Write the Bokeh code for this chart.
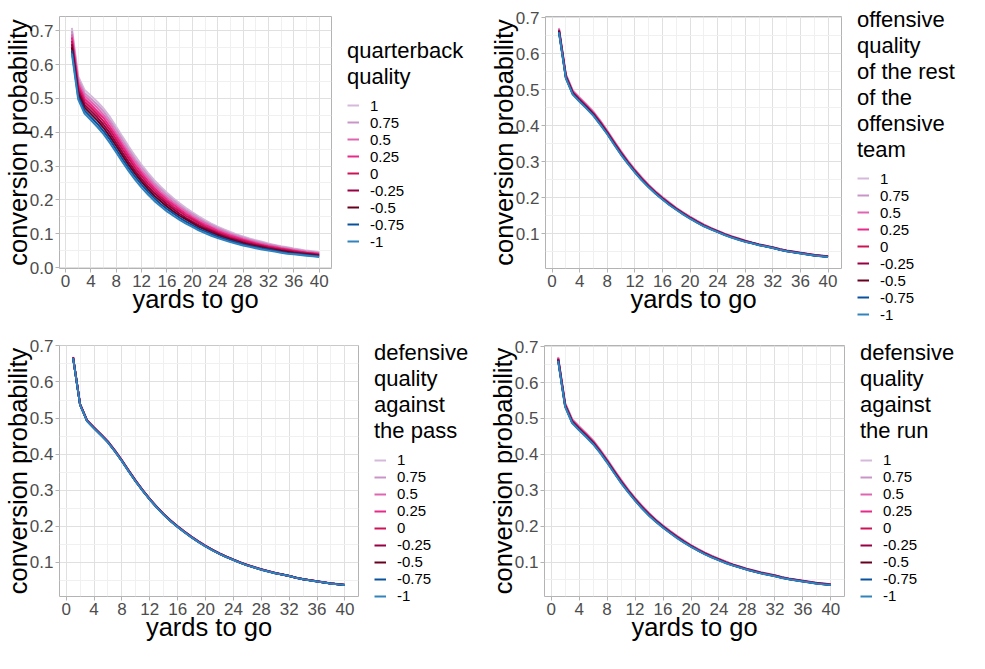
from bokeh.plotting import figure
from bokeh.layouts import column, row
from bokeh.models import Range1d, FixedTicker, PrintfTickFormatter, Legend, LegendItem
from bokeh.embed import file_html
from bokeh.resources import INLINE

# ---------------- data ----------------
yards = list(range(1, 41))
quality_levels = ["1", "0.75", "0.5", "0.25", "0", "-0.25", "-0.5", "-0.75", "-1"]
level_colors = ["#D4B9DA", "#C994C7", "#DF65B0", "#E7298A", "#CE1256",
                "#980043", "#67001F", "#08519C", "#3182BD"]
x_ticks = [0, 4, 8, 12, 16, 20, 24, 28, 32, 36, 40]
x_minor = [2, 6, 10, 14, 18, 22, 26, 30, 34, 38]
y_ticks = [0.0, 0.1, 0.2, 0.3, 0.4, 0.5, 0.6, 0.7]
y_minor = [0.05, 0.15, 0.25, 0.35, 0.45, 0.55, 0.65, 0.75]

# rows: one per yard (1..40), columns follow quality_levels
qb_rows = [
    (0.708, 0.699, 0.689, 0.680, 0.670, 0.660, 0.651, 0.641, 0.632),
    (0.565, 0.557, 0.548, 0.540, 0.531, 0.522, 0.514, 0.505, 0.497),
    (0.525, 0.516, 0.508, 0.499, 0.490, 0.481, 0.473, 0.464, 0.455),
    (0.508, 0.499, 0.490, 0.481, 0.472, 0.463, 0.454, 0.445, 0.436),
    (0.490, 0.481, 0.472, 0.462, 0.453, 0.444, 0.435, 0.425, 0.416),
    (0.470, 0.461, 0.451, 0.442, 0.432, 0.422, 0.413, 0.403, 0.394),
    (0.445, 0.435, 0.426, 0.416, 0.407, 0.397, 0.387, 0.378, 0.368),
    (0.416, 0.407, 0.397, 0.388, 0.378, 0.368, 0.359, 0.349, 0.340),
    (0.386, 0.377, 0.367, 0.358, 0.349, 0.339, 0.330, 0.320, 0.311),
    (0.357, 0.348, 0.339, 0.330, 0.321, 0.311, 0.302, 0.293, 0.284),
    (0.329, 0.320, 0.312, 0.303, 0.294, 0.285, 0.277, 0.268, 0.259),
    (0.303, 0.295, 0.286, 0.278, 0.270, 0.261, 0.253, 0.245, 0.236),
    (0.280, 0.272, 0.264, 0.256, 0.248, 0.240, 0.232, 0.224, 0.216),
    (0.258, 0.250, 0.243, 0.235, 0.228, 0.220, 0.212, 0.205, 0.197),
    (0.239, 0.232, 0.224, 0.217, 0.210, 0.203, 0.196, 0.188, 0.181),
    (0.221, 0.214, 0.207, 0.200, 0.194, 0.187, 0.180, 0.173, 0.166),
    (0.205, 0.199, 0.192, 0.186, 0.179, 0.173, 0.166, 0.160, 0.153),
    (0.190, 0.184, 0.178, 0.172, 0.166, 0.159, 0.153, 0.147, 0.141),
    (0.176, 0.170, 0.165, 0.159, 0.153, 0.147, 0.142, 0.136, 0.130),
    (0.163, 0.158, 0.152, 0.147, 0.142, 0.136, 0.131, 0.125, 0.120),
    (0.151, 0.146, 0.141, 0.136, 0.131, 0.125, 0.120, 0.115, 0.110),
    (0.140, 0.135, 0.131, 0.126, 0.121, 0.116, 0.112, 0.107, 0.102),
    (0.130, 0.126, 0.121, 0.117, 0.112, 0.108, 0.103, 0.099, 0.094),
    (0.121, 0.117, 0.113, 0.108, 0.104, 0.100, 0.096, 0.091, 0.087),
    (0.113, 0.109, 0.105, 0.101, 0.097, 0.093, 0.089, 0.085, 0.081),
    (0.105, 0.101, 0.098, 0.094, 0.090, 0.086, 0.083, 0.079, 0.075),
    (0.098, 0.095, 0.091, 0.088, 0.084, 0.081, 0.077, 0.074, 0.070),
    (0.092, 0.089, 0.085, 0.082, 0.079, 0.075, 0.072, 0.068, 0.065),
    (0.086, 0.083, 0.080, 0.077, 0.074, 0.070, 0.067, 0.064, 0.061),
    (0.081, 0.078, 0.075, 0.072, 0.069, 0.066, 0.063, 0.060, 0.057),
    (0.076, 0.073, 0.070, 0.067, 0.065, 0.062, 0.059, 0.056, 0.053),
    (0.071, 0.068, 0.066, 0.063, 0.061, 0.058, 0.055, 0.053, 0.050),
    (0.067, 0.065, 0.062, 0.060, 0.057, 0.055, 0.052, 0.050, 0.047),
    (0.063, 0.061, 0.058, 0.056, 0.054, 0.051, 0.049, 0.046, 0.044),
    (0.060, 0.058, 0.055, 0.053, 0.051, 0.048, 0.046, 0.043, 0.041),
    (0.056, 0.054, 0.052, 0.050, 0.048, 0.045, 0.043, 0.041, 0.039),
    (0.053, 0.051, 0.049, 0.047, 0.045, 0.043, 0.041, 0.039, 0.037),
    (0.050, 0.048, 0.046, 0.044, 0.043, 0.041, 0.039, 0.037, 0.035),
    (0.048, 0.046, 0.044, 0.042, 0.041, 0.039, 0.037, 0.035, 0.033),
    (0.045, 0.043, 0.042, 0.040, 0.038, 0.036, 0.035, 0.033, 0.031),
]

offense_rows = [
    (0.6720, 0.6705, 0.6690, 0.6675, 0.6660, 0.6645, 0.6630, 0.6615, 0.6600),
    (0.5440, 0.5425, 0.5410, 0.5395, 0.5380, 0.5365, 0.5350, 0.5335, 0.5320),
    (0.4990, 0.4975, 0.4960, 0.4945, 0.4930, 0.4915, 0.4900, 0.4885, 0.4870),
    (0.4790, 0.4775, 0.4760, 0.4745, 0.4730, 0.4715, 0.4700, 0.4685, 0.4670),
    (0.4600, 0.4585, 0.4570, 0.4555, 0.4540, 0.4525, 0.4510, 0.4495, 0.4480),
    (0.4400, 0.4385, 0.4370, 0.4355, 0.4340, 0.4325, 0.4310, 0.4295, 0.4280),
    (0.4150, 0.4135, 0.4120, 0.4105, 0.4090, 0.4075, 0.4060, 0.4045, 0.4030),
    (0.3872, 0.3859, 0.3846, 0.3833, 0.3820, 0.3807, 0.3794, 0.3781, 0.3768),
    (0.3582, 0.3569, 0.3556, 0.3543, 0.3530, 0.3517, 0.3504, 0.3491, 0.3478),
    (0.3302, 0.3289, 0.3276, 0.3263, 0.3250, 0.3237, 0.3224, 0.3211, 0.3198),
    (0.3034, 0.3023, 0.3012, 0.3001, 0.2990, 0.2979, 0.2968, 0.2957, 0.2946),
    (0.2794, 0.2783, 0.2772, 0.2761, 0.2750, 0.2739, 0.2728, 0.2717, 0.2706),
    (0.2574, 0.2563, 0.2552, 0.2541, 0.2530, 0.2519, 0.2508, 0.2497, 0.2486),
    (0.2366, 0.2357, 0.2348, 0.2339, 0.2330, 0.2321, 0.2312, 0.2303, 0.2294),
    (0.2186, 0.2177, 0.2168, 0.2159, 0.2150, 0.2141, 0.2132, 0.2123, 0.2114),
    (0.2026, 0.2017, 0.2008, 0.1999, 0.1990, 0.1981, 0.1972, 0.1963, 0.1954),
    (0.1876, 0.1867, 0.1858, 0.1849, 0.1840, 0.1831, 0.1822, 0.1813, 0.1804),
    (0.1728, 0.1721, 0.1714, 0.1707, 0.1700, 0.1693, 0.1686, 0.1679, 0.1672),
    (0.1598, 0.1591, 0.1584, 0.1577, 0.1570, 0.1563, 0.1556, 0.1549, 0.1542),
    (0.1478, 0.1471, 0.1464, 0.1457, 0.1450, 0.1443, 0.1436, 0.1429, 0.1422),
    (0.1368, 0.1361, 0.1354, 0.1347, 0.1340, 0.1333, 0.1326, 0.1319, 0.1312),
    (0.1268, 0.1261, 0.1254, 0.1247, 0.1240, 0.1233, 0.1226, 0.1219, 0.1212),
    (0.1170, 0.1165, 0.1160, 0.1155, 0.1150, 0.1145, 0.1140, 0.1135, 0.1130),
    (0.1090, 0.1085, 0.1080, 0.1075, 0.1070, 0.1065, 0.1060, 0.1055, 0.1050),
    (0.1010, 0.1005, 0.1000, 0.0995, 0.0990, 0.0985, 0.0980, 0.0975, 0.0970),
    (0.0940, 0.0935, 0.0930, 0.0925, 0.0920, 0.0915, 0.0910, 0.0905, 0.0900),
    (0.0880, 0.0875, 0.0870, 0.0865, 0.0860, 0.0855, 0.0850, 0.0845, 0.0840),
    (0.0820, 0.0815, 0.0810, 0.0805, 0.0800, 0.0795, 0.0790, 0.0785, 0.0780),
    (0.0762, 0.0759, 0.0756, 0.0753, 0.0750, 0.0747, 0.0744, 0.0741, 0.0738),
    (0.0712, 0.0709, 0.0706, 0.0703, 0.0700, 0.0697, 0.0694, 0.0691, 0.0688),
    (0.0672, 0.0669, 0.0666, 0.0663, 0.0660, 0.0657, 0.0654, 0.0651, 0.0648),
    (0.0632, 0.0629, 0.0626, 0.0623, 0.0620, 0.0617, 0.0614, 0.0611, 0.0608),
    (0.0582, 0.0579, 0.0576, 0.0573, 0.0570, 0.0567, 0.0564, 0.0561, 0.0558),
    (0.0542, 0.0539, 0.0536, 0.0533, 0.0530, 0.0527, 0.0524, 0.0521, 0.0518),
    (0.0512, 0.0509, 0.0506, 0.0503, 0.0500, 0.0497, 0.0494, 0.0491, 0.0488),
    (0.0482, 0.0479, 0.0476, 0.0473, 0.0470, 0.0467, 0.0464, 0.0461, 0.0458),
    (0.0452, 0.0449, 0.0446, 0.0443, 0.0440, 0.0437, 0.0434, 0.0431, 0.0428),
    (0.0422, 0.0419, 0.0416, 0.0413, 0.0410, 0.0407, 0.0404, 0.0401, 0.0398),
    (0.0402, 0.0399, 0.0396, 0.0393, 0.0390, 0.0387, 0.0384, 0.0381, 0.0378),
    (0.0382, 0.0379, 0.0376, 0.0373, 0.0370, 0.0367, 0.0364, 0.0361, 0.0358),
]

pass_def_rows = [
    (0.6696, 0.6692, 0.6688, 0.6684, 0.6680, 0.6676, 0.6672, 0.6668, 0.6664),
    (0.5396, 0.5392, 0.5388, 0.5384, 0.5380, 0.5376, 0.5372, 0.5368, 0.5364),
    (0.4946, 0.4942, 0.4938, 0.4934, 0.4930, 0.4926, 0.4922, 0.4918, 0.4914),
    (0.4746, 0.4742, 0.4738, 0.4734, 0.4730, 0.4726, 0.4722, 0.4718, 0.4714),
    (0.4556, 0.4552, 0.4548, 0.4544, 0.4540, 0.4536, 0.4532, 0.4528, 0.4524),
    (0.4356, 0.4352, 0.4348, 0.4344, 0.4340, 0.4336, 0.4332, 0.4328, 0.4324),
    (0.4106, 0.4102, 0.4098, 0.4094, 0.4090, 0.4086, 0.4082, 0.4078, 0.4074),
    (0.3836, 0.3832, 0.3828, 0.3824, 0.3820, 0.3816, 0.3812, 0.3808, 0.3804),
    (0.3546, 0.3542, 0.3538, 0.3534, 0.3530, 0.3526, 0.3522, 0.3518, 0.3514),
    (0.3266, 0.3262, 0.3258, 0.3254, 0.3250, 0.3246, 0.3242, 0.3238, 0.3234),
    (0.3002, 0.2999, 0.2996, 0.2993, 0.2990, 0.2987, 0.2984, 0.2981, 0.2978),
    (0.2762, 0.2759, 0.2756, 0.2753, 0.2750, 0.2747, 0.2744, 0.2741, 0.2738),
    (0.2542, 0.2539, 0.2536, 0.2533, 0.2530, 0.2527, 0.2524, 0.2521, 0.2518),
    (0.2342, 0.2339, 0.2336, 0.2333, 0.2330, 0.2327, 0.2324, 0.2321, 0.2318),
    (0.2162, 0.2159, 0.2156, 0.2153, 0.2150, 0.2147, 0.2144, 0.2141, 0.2138),
    (0.2002, 0.1999, 0.1996, 0.1993, 0.1990, 0.1987, 0.1984, 0.1981, 0.1978),
    (0.1852, 0.1849, 0.1846, 0.1843, 0.1840, 0.1837, 0.1834, 0.1831, 0.1828),
    (0.1712, 0.1709, 0.1706, 0.1703, 0.1700, 0.1697, 0.1694, 0.1691, 0.1688),
    (0.1582, 0.1579, 0.1576, 0.1573, 0.1570, 0.1567, 0.1564, 0.1561, 0.1558),
    (0.1462, 0.1459, 0.1456, 0.1453, 0.1450, 0.1447, 0.1444, 0.1441, 0.1438),
    (0.1348, 0.1346, 0.1344, 0.1342, 0.1340, 0.1338, 0.1336, 0.1334, 0.1332),
    (0.1248, 0.1246, 0.1244, 0.1242, 0.1240, 0.1238, 0.1236, 0.1234, 0.1232),
    (0.1158, 0.1156, 0.1154, 0.1152, 0.1150, 0.1148, 0.1146, 0.1144, 0.1142),
    (0.1078, 0.1076, 0.1074, 0.1072, 0.1070, 0.1068, 0.1066, 0.1064, 0.1062),
    (0.0998, 0.0996, 0.0994, 0.0992, 0.0990, 0.0988, 0.0986, 0.0984, 0.0982),
    (0.0928, 0.0926, 0.0924, 0.0922, 0.0920, 0.0918, 0.0916, 0.0914, 0.0912),
    (0.0868, 0.0866, 0.0864, 0.0862, 0.0860, 0.0858, 0.0856, 0.0854, 0.0852),
    (0.0808, 0.0806, 0.0804, 0.0802, 0.0800, 0.0798, 0.0796, 0.0794, 0.0792),
    (0.0758, 0.0756, 0.0754, 0.0752, 0.0750, 0.0748, 0.0746, 0.0744, 0.0742),
    (0.0708, 0.0706, 0.0704, 0.0702, 0.0700, 0.0698, 0.0696, 0.0694, 0.0692),
    (0.0664, 0.0663, 0.0662, 0.0661, 0.0660, 0.0659, 0.0658, 0.0657, 0.0656),
    (0.0624, 0.0623, 0.0622, 0.0621, 0.0620, 0.0619, 0.0618, 0.0617, 0.0616),
    (0.0574, 0.0573, 0.0572, 0.0571, 0.0570, 0.0569, 0.0568, 0.0567, 0.0566),
    (0.0534, 0.0533, 0.0532, 0.0531, 0.0530, 0.0529, 0.0528, 0.0527, 0.0526),
    (0.0504, 0.0503, 0.0502, 0.0501, 0.0500, 0.0499, 0.0498, 0.0497, 0.0496),
    (0.0474, 0.0473, 0.0472, 0.0471, 0.0470, 0.0469, 0.0468, 0.0467, 0.0466),
    (0.0444, 0.0443, 0.0442, 0.0441, 0.0440, 0.0439, 0.0438, 0.0437, 0.0436),
    (0.0414, 0.0413, 0.0412, 0.0411, 0.0410, 0.0409, 0.0408, 0.0407, 0.0406),
    (0.0394, 0.0393, 0.0392, 0.0391, 0.0390, 0.0389, 0.0388, 0.0387, 0.0386),
    (0.0374, 0.0373, 0.0372, 0.0371, 0.0370, 0.0369, 0.0368, 0.0367, 0.0366),
]

run_def_rows = [
    (0.6716, 0.6702, 0.6688, 0.6674, 0.6660, 0.6646, 0.6632, 0.6618, 0.6604),
    (0.5436, 0.5422, 0.5408, 0.5394, 0.5380, 0.5366, 0.5352, 0.5338, 0.5324),
    (0.4986, 0.4972, 0.4958, 0.4944, 0.4930, 0.4916, 0.4902, 0.4888, 0.4874),
    (0.4786, 0.4772, 0.4758, 0.4744, 0.4730, 0.4716, 0.4702, 0.4688, 0.4674),
    (0.4596, 0.4582, 0.4568, 0.4554, 0.4540, 0.4526, 0.4512, 0.4498, 0.4484),
    (0.4396, 0.4382, 0.4368, 0.4354, 0.4340, 0.4326, 0.4312, 0.4298, 0.4284),
    (0.4138, 0.4126, 0.4114, 0.4102, 0.4090, 0.4078, 0.4066, 0.4054, 0.4042),
    (0.3868, 0.3856, 0.3844, 0.3832, 0.3820, 0.3808, 0.3796, 0.3784, 0.3772),
    (0.3578, 0.3566, 0.3554, 0.3542, 0.3530, 0.3518, 0.3506, 0.3494, 0.3482),
    (0.3298, 0.3286, 0.3274, 0.3262, 0.3250, 0.3238, 0.3226, 0.3214, 0.3202),
    (0.3030, 0.3020, 0.3010, 0.3000, 0.2990, 0.2980, 0.2970, 0.2960, 0.2950),
    (0.2790, 0.2780, 0.2770, 0.2760, 0.2750, 0.2740, 0.2730, 0.2720, 0.2710),
    (0.2570, 0.2560, 0.2550, 0.2540, 0.2530, 0.2520, 0.2510, 0.2500, 0.2490),
    (0.2370, 0.2360, 0.2350, 0.2340, 0.2330, 0.2320, 0.2310, 0.2300, 0.2290),
    (0.2182, 0.2174, 0.2166, 0.2158, 0.2150, 0.2142, 0.2134, 0.2126, 0.2118),
    (0.2022, 0.2014, 0.2006, 0.1998, 0.1990, 0.1982, 0.1974, 0.1966, 0.1958),
    (0.1872, 0.1864, 0.1856, 0.1848, 0.1840, 0.1832, 0.1824, 0.1816, 0.1808),
    (0.1732, 0.1724, 0.1716, 0.1708, 0.1700, 0.1692, 0.1684, 0.1676, 0.1668),
    (0.1602, 0.1594, 0.1586, 0.1578, 0.1570, 0.1562, 0.1554, 0.1546, 0.1538),
    (0.1474, 0.1468, 0.1462, 0.1456, 0.1450, 0.1444, 0.1438, 0.1432, 0.1426),
    (0.1364, 0.1358, 0.1352, 0.1346, 0.1340, 0.1334, 0.1328, 0.1322, 0.1316),
    (0.1264, 0.1258, 0.1252, 0.1246, 0.1240, 0.1234, 0.1228, 0.1222, 0.1216),
    (0.1174, 0.1168, 0.1162, 0.1156, 0.1150, 0.1144, 0.1138, 0.1132, 0.1126),
    (0.1094, 0.1088, 0.1082, 0.1076, 0.1070, 0.1064, 0.1058, 0.1052, 0.1046),
    (0.1014, 0.1008, 0.1002, 0.0996, 0.0990, 0.0984, 0.0978, 0.0972, 0.0966),
    (0.0936, 0.0932, 0.0928, 0.0924, 0.0920, 0.0916, 0.0912, 0.0908, 0.0904),
    (0.0876, 0.0872, 0.0868, 0.0864, 0.0860, 0.0856, 0.0852, 0.0848, 0.0844),
    (0.0816, 0.0812, 0.0808, 0.0804, 0.0800, 0.0796, 0.0792, 0.0788, 0.0784),
    (0.0766, 0.0762, 0.0758, 0.0754, 0.0750, 0.0746, 0.0742, 0.0738, 0.0734),
    (0.0716, 0.0712, 0.0708, 0.0704, 0.0700, 0.0696, 0.0692, 0.0688, 0.0684),
    (0.0676, 0.0672, 0.0668, 0.0664, 0.0660, 0.0656, 0.0652, 0.0648, 0.0644),
    (0.0636, 0.0632, 0.0628, 0.0624, 0.0620, 0.0616, 0.0612, 0.0608, 0.0604),
    (0.0582, 0.0579, 0.0576, 0.0573, 0.0570, 0.0567, 0.0564, 0.0561, 0.0558),
    (0.0542, 0.0539, 0.0536, 0.0533, 0.0530, 0.0527, 0.0524, 0.0521, 0.0518),
    (0.0512, 0.0509, 0.0506, 0.0503, 0.0500, 0.0497, 0.0494, 0.0491, 0.0488),
    (0.0482, 0.0479, 0.0476, 0.0473, 0.0470, 0.0467, 0.0464, 0.0461, 0.0458),
    (0.0452, 0.0449, 0.0446, 0.0443, 0.0440, 0.0437, 0.0434, 0.0431, 0.0428),
    (0.0422, 0.0419, 0.0416, 0.0413, 0.0410, 0.0407, 0.0404, 0.0401, 0.0398),
    (0.0402, 0.0399, 0.0396, 0.0393, 0.0390, 0.0387, 0.0384, 0.0381, 0.0378),
    (0.0382, 0.0379, 0.0376, 0.0373, 0.0370, 0.0367, 0.0364, 0.0361, 0.0358),
]

legend_titles = [
    "quarterback\nquality",
    "offensive\nquality\nof the rest\nof the\noffensive\nteam",
    "defensive\nquality\nagainst\nthe pass",
    "defensive\nquality\nagainst\nthe run",
]

FONT = "Liberation Sans"
TITLE_PX = 22
LABEL_PX = 15
TITLE_LINE = 1.2 * TITLE_PX     # rendered pitch of the legend-title lines
ITEM_H = 1.15 * LABEL_PX        # rendered height of one legend entry
TITLE_GAP = 7
GAP_RIGHT = 12        # plot border right of the frame (room for the last tick label)


def make_panel(rows, legend_title, cell_w, height, b_left, frame_w, b_top, b_bottom):
    series = [[r[k] for r in rows] for k in range(len(quality_levels))]
    lo = min(min(s) for s in series)
    hi = max(max(s) for s in series)
    ypad = 0.05 * (hi - lo)
    xpad = 0.05 * (max(yards) - min(yards))
    plot_w = b_left + frame_w + GAP_RIGHT
    p = figure(width=plot_w, height=height,
               x_range=Range1d(min(yards) - xpad, max(yards) + xpad),
               y_range=Range1d(lo - ypad, hi + ypad),
               output_backend="svg", toolbar_location=None,
               min_border_left=b_left, min_border_right=GAP_RIGHT,
               min_border_top=b_top, min_border_bottom=b_bottom)
    p.background_fill_color = "white"
    p.border_fill_color = "white"
    p.outline_line_color = "#B3B3B3"
    p.outline_line_width = 1

    xt = FixedTicker(ticks=x_ticks, minor_ticks=x_minor)
    yt = FixedTicker(ticks=y_ticks, minor_ticks=y_minor)
    p.xaxis.ticker = xt
    p.xgrid.ticker = xt
    p.yaxis.ticker = yt
    p.ygrid.ticker = yt
    p.xaxis.formatter = PrintfTickFormatter(format="%d")
    p.yaxis.formatter = PrintfTickFormatter(format="%.1f")
    p.xaxis.axis_label = "yards to go"
    p.yaxis.axis_label = "conversion probability"
    for ax in (p.xaxis[0], p.yaxis[0]):
        ax.axis_line_color = None
        ax.major_tick_line_color = "#B3B3B3"
        ax.major_tick_out = 4
        ax.major_tick_in = 0
        ax.minor_tick_line_color = None
        ax.major_label_text_font = FONT
        ax.major_label_text_font_size = "17px"
        ax.major_label_text_color = "#4D4D4D"
        ax.major_label_standoff = 2
        ax.axis_label_text_font = FONT
        ax.axis_label_text_font_size = "25.5px"
        ax.axis_label_text_font_style = "normal"
        ax.axis_label_text_color = "black"
        ax.axis_label_standoff = -5
    for g in (p.xgrid[0], p.ygrid[0]):
        g.grid_line_color = "#E0E0E0"
        g.grid_line_width = 1
        g.minor_grid_line_color = "#F0F0F0"
        g.minor_grid_line_width = 1

    for k in range(len(quality_levels)):
        p.line(yards, series[k], line_color=level_colors[k], line_width=2)

    # ---- legend panel to the right of the plot (its own canvas) ----
    leg_w = cell_w - plot_w
    lf = figure(width=leg_w, height=height, output_backend="svg", toolbar_location=None,
                x_axis_type=None, y_axis_type=None,
                x_range=Range1d(-3, -2), y_range=Range1d(-3, -2),
                min_border_left=0, min_border_right=0, min_border_top=0, min_border_bottom=0)
    lf.outline_line_color = None
    lf.background_fill_color = "white"
    lf.border_fill_color = "white"
    items = []
    for k, lvl in enumerate(quality_levels):
        key = lf.line(yards, series[k], line_color=level_colors[k], line_width=2)
        items.append(LegendItem(label=lvl, renderers=[key]))

    frame_h = height - b_top - b_bottom
    n_lines = legend_title.count("\n") + 1
    leg_h = n_lines * TITLE_LINE + TITLE_GAP + len(quality_levels) * ITEM_H
    top = max(2, b_top + (frame_h - leg_h) / 2)
    vy = height - top - leg_h

    legend = Legend(items=items, title=legend_title, location=(16 - GAP_RIGHT, vy),
                    border_line_color=None, background_fill_alpha=0,
                    padding=0, margin=0, spacing=0,
                    glyph_width=12, glyph_height=14, label_height=14,
                    label_standoff=11,
                    label_text_font=FONT, label_text_font_size="%gpx" % LABEL_PX,
                    label_text_color="black",
                    title_text_font=FONT, title_text_font_size="%dpx" % TITLE_PX,
                    title_text_font_style="normal", title_text_color="black",
                    title_standoff=TITLE_GAP)
    lf.add_layout(legend)
    return row(p, column(lf))


c1 = make_panel(qb_rows, legend_titles[0], 482, 325, 57, 274, 16, 57)
c2 = make_panel(offense_rows, legend_titles[1], 483, 325, 63, 296, 16, 57)
c3 = make_panel(pass_def_rows, legend_titles[2], 482, 326, 58, 300, 20, 55)
c4 = make_panel(run_def_rows, legend_titles[3], 483, 326, 62, 300, 20, 55)

layout = column(row(c1, c2), row(c3, c4))
open("out.html", "w").write(file_html(layout, INLINE))
